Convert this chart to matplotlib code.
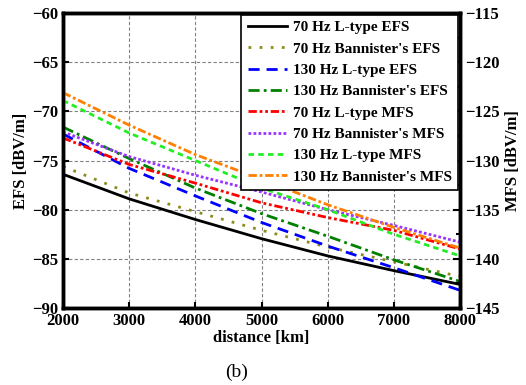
import matplotlib
matplotlib.use("Agg")
import matplotlib.pyplot as plt
from matplotlib.ticker import MultipleLocator

plt.rcParams['font.family'] = ['Liberation Serif', 'DejaVu Serif']
plt.rcParams['font.weight'] = 'bold'
plt.rcParams['axes.labelweight'] = 'bold'

# distancia en km
distance = [2000, 3000, 4000, 5000, 6000, 7000, 8000]

# EFS [dBV/m] (eje izquierdo)
efs_70_ltype = [-76.4, -78.9, -81.0, -82.95, -84.7, -86.2, -87.6]
efs_70_bann = [-75.6, -78.3, -80.2, -82.1, -83.8, -85.3, -86.8]
efs_130_ltype = [-72.3, -75.8, -78.6, -81.3, -83.7, -85.9, -88.2]
efs_130_bann = [-71.6, -74.8, -77.8, -80.4, -82.7, -85.1, -87.3]

# MFS [dBV/m] (eje derecho)
mfs_70_ltype = [-127.7, -130.4, -132.3, -134.3, -135.8, -137.1, -139.0]
mfs_70_bann = [-127.1, -129.6, -131.5, -133.2, -135.0, -136.6, -138.3]
mfs_130_ltype = [-123.9, -127.2, -130.0, -132.8, -135.0, -137.5, -139.7]
mfs_130_bann = [-123.1, -126.4, -129.4, -131.9, -134.5, -136.8, -138.9]

fig = plt.figure(figsize=(5.26, 3.85), dpi=100)
ax = fig.add_axes([0.1198, 0.2, 0.7547, 0.7662])
ax2 = ax.twinx()

l1, = ax.plot(distance, efs_70_ltype, color='black', lw=2.0, ls='-', label='70 Hz L-type EFS')
l2, = ax.plot(distance, efs_70_bann, color='#8c8c1a', lw=2.0, ls=(0, (1, 3)), label="70 Hz Bannister's EFS")
l3, = ax.plot(distance, efs_130_ltype, color='#0000ff', lw=2.0, ls=(0, (4, 2.5)), label='130 Hz L-type EFS')
l4, = ax.plot(distance, efs_130_bann, color='#008000', lw=2.0, ls=(0, (4, 1.5, 1, 1.5)), label="130 Hz Bannister's EFS")
l5, = ax2.plot(distance, mfs_70_ltype, color='#ff0000', lw=2.0, ls=(0, (3, 1, 1, 1, 1, 1)), label='70 Hz L-type MFS')
l6, = ax2.plot(distance, mfs_70_bann, color='#9933ff', lw=2.0, ls=(0, (1, 0.8)), label="70 Hz Bannister's MFS")
l7, = ax2.plot(distance, mfs_130_ltype, color='#22ee22', lw=2.0, ls=(0, (2, 1.5)), label='130 Hz L-type MFS')
l8, = ax2.plot(distance, mfs_130_bann, color='#ff8000', lw=2.0, ls=(0, (3, 1, 1, 1)), label="130 Hz Bannister's MFS")

ax.set_xlim(2000, 8000)
ax.set_ylim(-90, -60)
ax2.set_ylim(-145, -115)
ax.xaxis.set_major_locator(MultipleLocator(1000))
ax.yaxis.set_major_locator(MultipleLocator(5))
ax2.yaxis.set_major_locator(MultipleLocator(5))
ax2.yaxis.set_minor_locator(MultipleLocator(2.5))

ax.grid(True, color='gray', ls=(0, (3, 2)), lw=0.8)
ax.tick_params(direction='in', labelsize=12, length=4, width=1.5)
ax2.tick_params(which='both', direction='in', labelsize=12, width=1.5)
ax2.tick_params(which='major', length=5)
ax2.tick_params(which='minor', length=3)
for a in (ax, ax2):
    for s in a.spines.values():
        s.set_linewidth(2.5)

ax.set_xlabel('distance [km]', fontsize=12, labelpad=1)
ax.set_ylabel('EFS [dBV/m]', fontsize=12, labelpad=2)
ax2.set_ylabel('MFS [dBV/m]', fontsize=12, labelpad=4)

leg = ax2.legend(handles=[l1, l2, l3, l4, l5, l6, l7, l8], loc='upper right',
                 fontsize=11, frameon=True, fancybox=False, edgecolor='black',
                 framealpha=1, handlelength=2.6, handletextpad=0.4,
                 labelspacing=0.5, borderpad=0.4, borderaxespad=0.1)
leg.get_frame().set_linewidth(1.2)

fig.text(0.45, 0.02, '(b)', fontsize=14, fontweight='normal', ha='center')

fig.savefig('out.png', dpi=100)
